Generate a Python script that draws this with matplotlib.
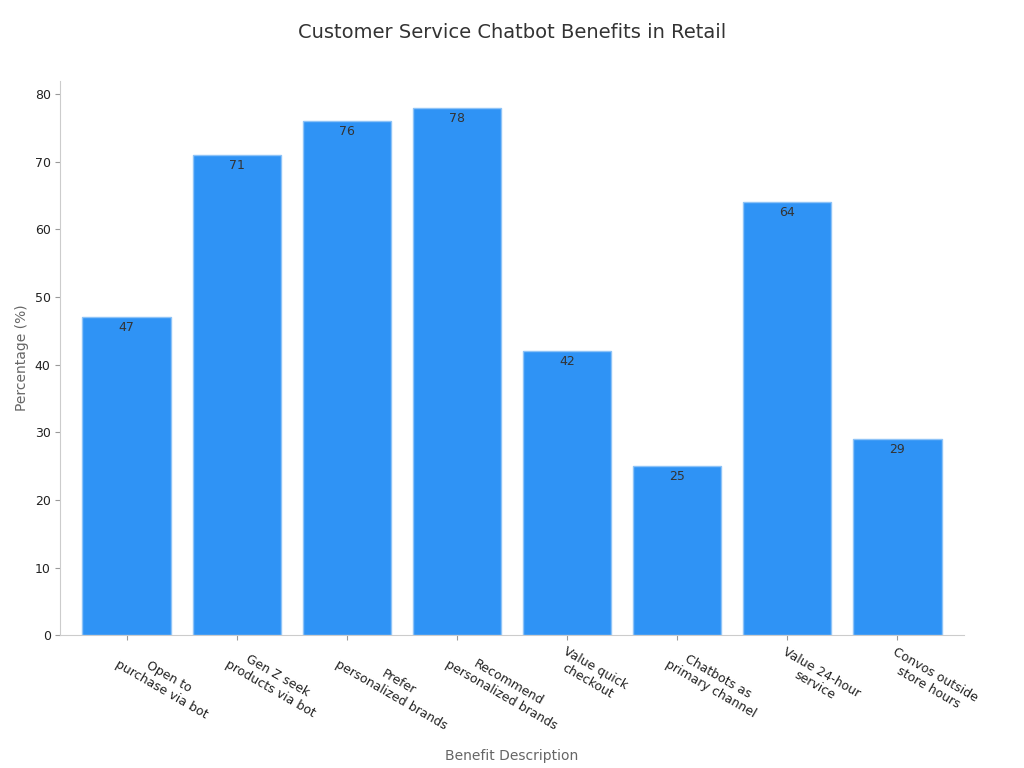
import matplotlib
matplotlib.use('Agg')
import matplotlib.pyplot as plt

categories = ["Open to\npurchase via bot", "Gen Z seek\nproducts via bot", "Prefer\npersonalized brands",
              "Recommend\npersonalized brands", "Value quick\ncheckout", "Chatbots as\nprimary channel",
              "Value 24-hour\nservice", "Convos outside\nstore hours"]
values = [47, 71, 76, 78, 42, 25, 64, 29]

fig = plt.figure(figsize=(10.24, 7.68), dpi=100)
ax = fig.add_axes([0.059, 0.173, 0.882, 0.722])

bars = ax.bar(range(len(values)), values, width=0.8, color='#2F93F5', edgecolor='#8EC3F7', linewidth=1)
for b, v in zip(bars, values):
    ax.text(b.get_x() + b.get_width() / 2, v - 0.6, str(v), ha='center', va='top', fontsize=9, color='#333333')

ax.set_xlim(-0.6, 7.6)
ax.set_ylim(0, 82)
ax.set_yticks(range(0, 81, 10))
ax.set_xticks(range(len(values)))
ax.set_xticklabels(categories, rotation=-30, ha='left', rotation_mode='anchor', fontsize=9, color='#222222', multialignment='center')
ax.tick_params(axis='y', labelsize=9, colors='#222222')
ax.tick_params(axis='both', color='#999999')
for s in ['top', 'right']:
    ax.spines[s].set_visible(False)
for s in ['left', 'bottom']:
    ax.spines[s].set_color('#cccccc')

ax.set_ylabel('Percentage (%)', fontsize=10, color='#666666')
ax.set_xlabel('Benefit Description', fontsize=10, color='#666666', labelpad=12)
fig.suptitle('Customer Service Chatbot Benefits in Retail', fontsize=14, color='#333333', y=0.97)

fig.savefig('out.png', dpi=100)
